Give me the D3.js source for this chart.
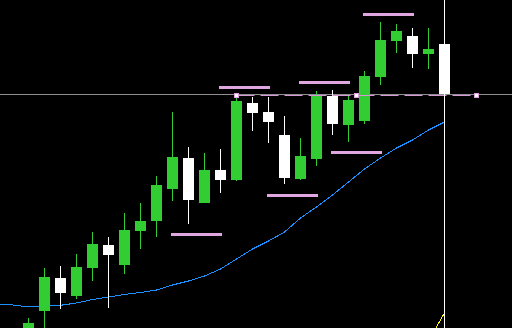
<!DOCTYPE html>
<html>
<head>
<meta charset="utf-8">
<script src="https://cdn.jsdelivr.net/npm/d3@7"></script>
<style>
  html, body { margin:0; padding:0; background:#000; overflow:hidden; }
  svg { display:block; }
</style>
</head>
<body>
<div id="chart"></div>
<script>
// candles, one per bar
const opens  = [99.6,101.7,105.0,103.2,106.0,108.3,106.3,109.7,110.7,113.9,117.0,112.5,115.8,114.8,
                122.5,121.6,119.3,114.9,116.9,123.2,120.3,120.7,125.1,128.7,129.2,127.4,128.4];
const highs  = [101.0,106.0,106.2,107.4,109.6,109.1,111.5,112.5,115.2,121.6,118.1,117.5,117.9,123.2,
                123.1,123.1,121.2,119.0,123.7,123.8,123.3,125.7,130.6,130.4,130.0,130.0,128.8];
const lows   = [99.2,98.8,101.9,102.9,104.7,102.0,105.4,107.9,109.1,112.7,110.4,112.5,113.5,114.7,
                119.7,118.5,114.4,114.8,116.2,119.3,118.6,120.4,124.3,127.5,126.0,125.9,123.4];
const closes = [100.5,105.1,103.5,106.1,108.4,107.3,109.8,110.7,114.3,117.1,112.8,115.8,114.8,122.7,
                121.5,120.6,115.0,117.2,123.3,120.4,122.8,125.2,128.8,129.7,127.4,127.9,123.4];

// moving average, starts two bars before the first candle
const maStart = -2;
const maValues = [102.4,102.3,102.1,102.17,102.27,102.5,102.85,103.1,103.35,103.55,103.8,104.3,104.7,
                  105.2,105.9,106.9,107.9,108.7,109.6,111.0,112.1,113.3,114.6,115.9,117.0,118.0,118.8,119.8,120.6];

// second (yellow) line, only the last two bars
const yellowIdx = [25, 26];
const yellowValues = [98.7, 101.5];

// horizontal level segments [fromBar, toBar, price]
const levelFrom  = [9, 12, 15, 17, 19, 21];
const levelTo    = [12, 15, 18, 20, 22, 24];
const levelPrice = [109.35, 124.05, 113.25, 124.55, 117.55, 131.35];

// dashed horizontal drawing with its handles
const drawFrom = 13, drawTo = 28, drawPrice = 123.35;
// crosshair
const crossBar = 26, crossPrice = 123.45;

const width = 512, height = 328;
const upColor = '#32cd32', downColor = '#ffffff';

const svg = d3.select('#chart').append('svg')
    .attr('width', width).attr('height', height)
    .style('background', '#000');

const x = d3.scaleLinear().domain([0, 26]).range([28.5, 444.5]);
const y = d3.scaleLinear().domain([100, 132.8]).range([328, 0]);
const py = v => Math.round(y(v));

const candles = opens.map((o, i) => ({i, o, h: highs[i], l: lows[i], c: closes[i]}));

// moving average
const ma = maValues.map((v, k) => [maStart + k, v]);
svg.append('path')
    .datum(ma)
    .attr('fill', 'none')
    .attr('stroke', '#1e8fff')
    .attr('stroke-width', 1)
    .attr('shape-rendering', 'crispEdges')
    .attr('d', d3.line().x(d => x(d[0])).y(d => y(d[1])));

// yellow line
svg.append('path')
    .datum(yellowIdx.map((i, k) => [i, yellowValues[k]]))
    .attr('fill', 'none')
    .attr('stroke', '#ffff00')
    .attr('stroke-width', 1)
    .attr('shape-rendering', 'crispEdges')
    .attr('d', d3.line().x(d => x(d[0])).y(d => y(d[1])));

// crosshair horizontal
svg.append('line')
    .attr('x1', 0).attr('x2', width)
    .attr('y1', py(crossPrice) + 0.5).attr('y2', py(crossPrice) + 0.5)
    .attr('stroke', '#8f8f8f').attr('stroke-width', 1);

// candles
const g = svg.append('g').attr('class', 'candles');
const cg = g.selectAll('g').data(candles).join('g');
cg.append('line')
    .attr('x1', d => x(d.i)).attr('x2', d => x(d.i))
    .attr('y1', d => py(d.h)).attr('y2', d => py(d.l))
    .attr('stroke', d => d.c >= d.o ? upColor : downColor)
    .attr('stroke-width', 1);
cg.append('rect')
    .attr('x', d => x(d.i) - 5.5)
    .attr('width', 11)
    .attr('y', d => py(Math.max(d.o, d.c)))
    .attr('height', d => Math.max(1, py(Math.min(d.o, d.c)) - py(Math.max(d.o, d.c))))
    .attr('fill', d => d.c >= d.o ? upColor : downColor);

// level segments
svg.append('g').selectAll('line')
    .data(levelPrice.map((p, k) => ({a: levelFrom[k], b: levelTo[k], p})))
    .join('line')
    .attr('x1', d => x(d.a)).attr('x2', d => x(d.b))
    .attr('y1', d => y(d.p)).attr('y2', d => y(d.p))
    .attr('stroke', '#e0a6e0')
    .attr('stroke-width', 3)
    .attr('stroke-linecap', 'square');

// dashed drawing line + handles
const dy = py(drawPrice) + 0.5;
svg.append('line')
    .attr('x1', x(drawFrom)).attr('x2', x(drawTo))
    .attr('y1', dy).attr('y2', dy)
    .attr('stroke', '#d898d8').attr('stroke-width', 1)
    .attr('stroke-dasharray', '18,6');
svg.append('g').selectAll('rect')
    .data([drawFrom, (drawFrom + drawTo) / 2, drawTo])
    .join('rect')
    .attr('x', d => x(d) - 2).attr('y', dy - 2)
    .attr('width', 4).attr('height', 4)
    .attr('fill', '#fff')
    .attr('stroke', '#e0a0e0').attr('stroke-width', 1);

// crosshair vertical
svg.append('line')
    .attr('x1', x(crossBar)).attr('x2', x(crossBar))
    .attr('y1', 0).attr('y2', height)
    .attr('stroke', '#ffffff').attr('stroke-width', 1);
</script>
</body>
</html>
